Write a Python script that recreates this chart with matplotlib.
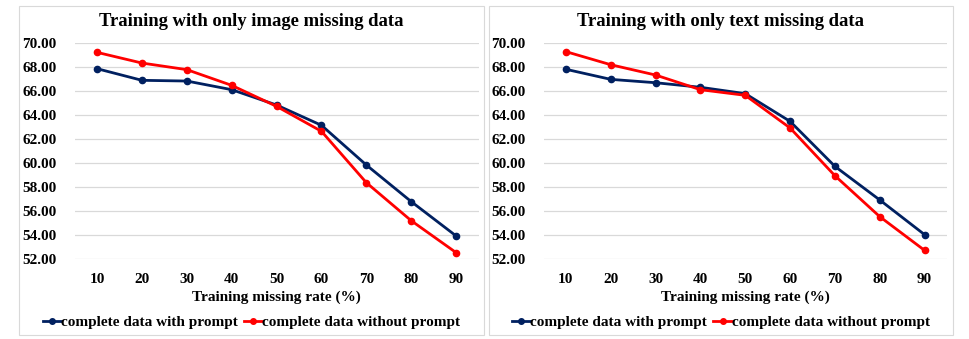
import matplotlib
matplotlib.use('Agg')
import matplotlib.pyplot as plt
from matplotlib.patches import Rectangle
from matplotlib.lines import Line2D

# missing rate categories
rates = ['10', '20', '30', '40', '50', '60', '70', '80', '90']

# image missing panel
img_with_prompt = [67.86, 66.89, 66.83, 66.11, 64.83, 63.14, 59.83, 56.78, 53.92]
img_without_prompt = [69.22, 68.33, 67.78, 66.47, 64.72, 62.64, 58.36, 55.19, 52.53]

# text missing panel
txt_with_prompt = [67.81, 66.97, 66.69, 66.31, 65.78, 63.47, 59.72, 56.92, 54.03]
txt_without_prompt = [69.28, 68.19, 67.33, 66.11, 65.64, 62.92, 58.94, 55.53, 52.72]

titles = ['Training with only image missing data', 'Training with only text missing data']
series_names = ['complete data with prompt', 'complete data without prompt']
yticks = [52, 54, 56, 58, 60, 62, 64, 66, 68, 70]

BLUE = '#002060'
RED = '#FF0000'
W, H = 970, 339

plt.rcParams['font.family'] = ['Liberation Serif', 'DejaVu Serif']
plt.rcParams['font.weight'] = 'bold'

fig = plt.figure(figsize=(W / 100, H / 100), dpi=100)

def px(x0, y0, x1, y1):
    # pixel box -> figure fraction [left, bottom, width, height]
    return [x0 / W, 1 - y1 / H, (x1 - x0) / W, (y1 - y0) / H]

# panel borders
for bx0, bx1 in [(19, 484), (489, 953)]:
    fig.patches.append(Rectangle((bx0 / W, 1 - 335 / H), (bx1 - bx0) / W, 329 / H,
                                 transform=fig.transFigure, fill=False,
                                 edgecolor='#D9D9D9', linewidth=0.8))

panels = [
    (74.6, 478.6, img_with_prompt, img_without_prompt, 19, 484),
    (543.5, 947.0, txt_with_prompt, txt_without_prompt, 489, 953),
]

FS = 11

for i, (x0, x1, with_p, without_p, bx0, bx1) in enumerate(panels):
    ax = fig.add_axes(px(x0, 43, x1, 259))
    xs = range(len(rates))
    ax.plot(xs, with_p, color=BLUE, lw=2.0, marker='o', ms=4.5, mfc=BLUE, mec=BLUE,
            zorder=3, clip_on=False)
    ax.plot(xs, without_p, color=RED, lw=2.0, marker='o', ms=4.5, mfc=RED, mec=RED,
            zorder=3, clip_on=False)
    ax.set_xlim(-0.5, len(rates) - 0.5)
    ax.set_ylim(52, 70)
    ax.set_yticks(yticks)
    ax.set_yticklabels(['%.2f' % v for v in yticks], fontsize=FS, fontweight='bold')
    ax.set_xticks(list(xs))
    ax.set_xticklabels(rates, fontsize=FS, fontweight='bold')
    ax.tick_params(length=0, pad=10)
    ax.tick_params(axis='y', pad=13)
    for s in ax.spines.values():
        s.set_visible(False)
    ax.grid(axis='y', color='#D9D9D9', lw=0.9)
    ax.set_axisbelow(True)
    ax.set_xlabel('Training missing rate (%)', fontsize=FS, fontweight='bold', labelpad=3)

    cx = (bx0 + bx1) / 2 / W
    fig.text(cx, 1 - 22 / H, titles[i], ha='center', va='center',
             fontsize=13.4, fontweight='bold')

    handles = [Line2D([], [], color=BLUE, lw=2.0, marker='o', ms=4),
               Line2D([], [], color=RED, lw=2.0, marker='o', ms=4)]
    fig.legend(handles, series_names, loc='center', bbox_to_anchor=(cx, 1 - 322 / H),
               ncol=2, frameon=False, handlelength=1.2,
               handletextpad=0.0, columnspacing=0.4, prop={'weight': 'bold', 'size': FS})

fig.savefig('out.png', dpi=100)
